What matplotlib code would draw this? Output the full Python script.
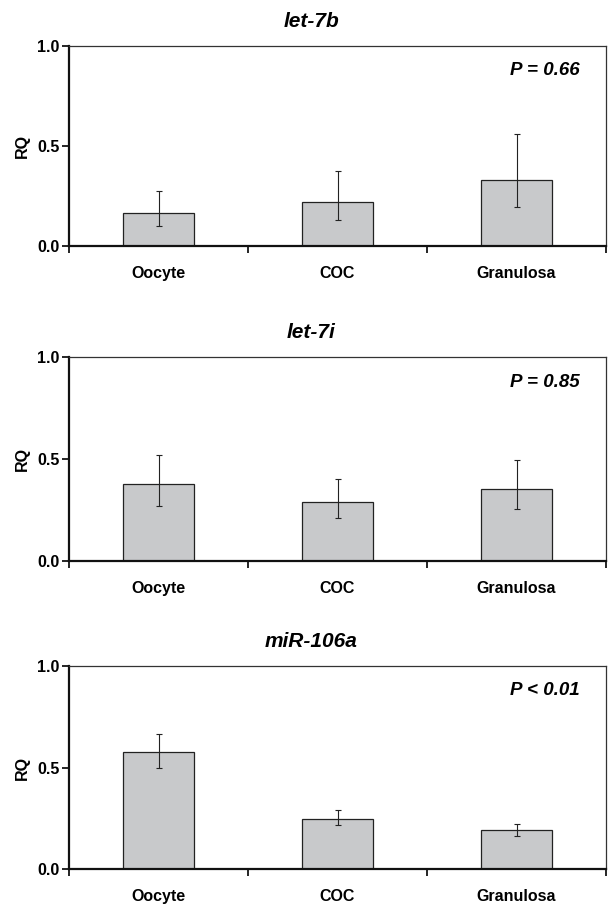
import matplotlib
matplotlib.use("Agg")
import matplotlib.pyplot as plt
import numpy as np

categories = ["Oocyte", "COC", "Granulosa"]
titles = ["let-7b", "let-7i", "miR-106a"]
p_labels = ["P = 0.66", "P = 0.85", "P < 0.01"]

let7b_rq = [0.163, 0.218, 0.330]
let7b_hi = [0.275, 0.373, 0.558]
let7b_lo = [0.098, 0.130, 0.195]

let7i_rq = [0.377, 0.291, 0.355]
let7i_hi = [0.519, 0.403, 0.493]
let7i_lo = [0.268, 0.211, 0.254]

mir106a_rq = [0.577, 0.248, 0.191]
mir106a_hi = [0.667, 0.290, 0.224]
mir106a_lo = [0.497, 0.216, 0.163]

series = [(let7b_rq, let7b_hi, let7b_lo),
          (let7i_rq, let7i_hi, let7i_lo),
          (mir106a_rq, mir106a_hi, mir106a_lo)]

plt.rcParams['font.family'] = ['Liberation Sans', 'DejaVu Sans']

W, H = 611, 908
fig = plt.figure(figsize=(W / 100, H / 100), dpi=100)

# axes boxes in pixels: (top, bottom)
boxes = [(46, 246), (357, 561), (666, 869)]
left_px, right_px = 69, 606

for i, (ax_box, (rq, hi, lo)) in enumerate(zip(boxes, series)):
    top, bottom = ax_box
    ax = fig.add_axes([left_px / W, 1 - bottom / H, (right_px - left_px) / W, (bottom - top) / H])
    x = np.arange(len(categories))
    rq = np.array(rq); hi = np.array(hi); lo = np.array(lo)
    ax.bar(x, rq, width=0.4, color='#c8c9cb', edgecolor='#222222', linewidth=0.9, zorder=2)
    ax.errorbar(x, rq, yerr=[rq - lo, hi - rq], fmt='none', ecolor='#222222',
                elinewidth=0.8, capsize=2.5, capthick=0.8, zorder=3)
    ax.set_xlim(-0.5, len(categories) - 0.5)
    ax.set_ylim(0, 1.0)
    ax.set_yticks([0, 0.5, 1.0])
    ax.set_yticklabels(["0.0", "0.5", "1.0"], fontsize=11.5, fontweight='bold')
    # category ticks at boundaries, labels at centers
    ax.set_xticks(np.arange(len(categories) + 1) - 0.5)
    ax.set_xticklabels([])
    ax.set_xticks(x, minor=True)
    ax.set_xticklabels(categories, minor=True, fontsize=11.5, fontweight='bold')
    ax.tick_params(axis='x', which='minor', length=0, pad=14.5)
    ax.tick_params(axis='x', which='major', length=5, width=1.2, direction='out')
    ax.tick_params(axis='y', length=5, width=1.2, direction='out', pad=2)
    for s in ['left', 'bottom']:
        ax.spines[s].set_linewidth(1.6)
        ax.spines[s].set_color('#111111')
    for s in ['top', 'right']:
        ax.spines[s].set_linewidth(0.9)
        ax.spines[s].set_color('#333333')
    ax.set_ylabel("RQ", fontsize=11.5, fontweight='bold', labelpad=5)
    ax.set_title(titles[i], fontsize=15, fontweight='bold', style='italic', pad=13.5, x=0.451)
    ax.text(0.95, 0.877, p_labels[i], transform=ax.transAxes, ha='right', va='center',
            fontsize=13.5, fontweight='bold', style='italic')

fig.savefig("out.png", dpi=100)
